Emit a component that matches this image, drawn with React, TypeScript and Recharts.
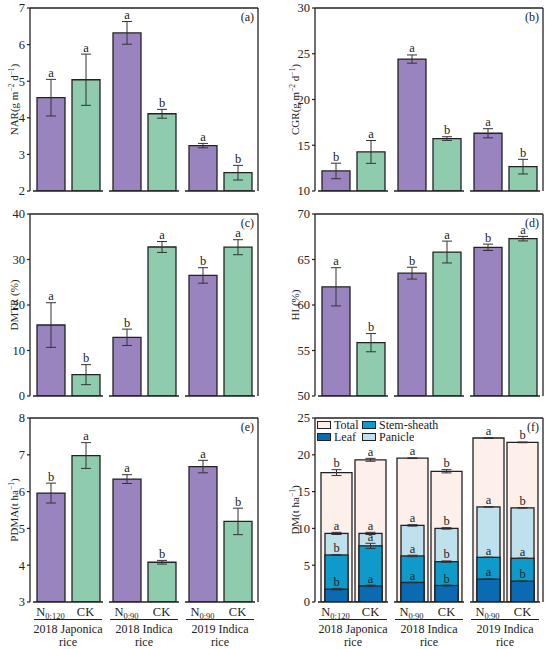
import React from 'react';
import { BarChart, Bar, XAxis, YAxis, ErrorBar, LabelList, Legend } from 'recharts';

// treatment groups and nitrogen labels
const groups = ['2018 Japonica rice', '2018 Indica rice', '2019 Indica rice'];
const nRates = ['0:120', '0:90', '0:90'];

// (a) NAR
const narN = [4.55, 6.32, 3.24];
const narNErr = [0.5, 0.31, 0.06];
const narNSig = ['a', 'a', 'a'];
const narCK = [5.04, 4.11, 2.5];
const narCKErr = [0.7, 0.12, 0.2];
const narCKSig = ['a', 'b', 'b'];

// (b) CGR
const cgrN = [12.19, 24.42, 16.31];
const cgrNErr = [0.85, 0.45, 0.5];
const cgrNSig = ['b', 'a', 'a'];
const cgrCK = [14.27, 15.73, 12.66];
const cgrCKErr = [1.25, 0.2, 0.8];
const cgrCKSig = ['a', 'b', 'b'];

// (c) DMTR
const dmtrN = [15.6, 12.9, 26.5];
const dmtrNErr = [4.9, 1.8, 1.7];
const dmtrNSig = ['a', 'b', 'b'];
const dmtrCK = [4.69, 32.75, 32.7];
const dmtrCKErr = [2.2, 1.2, 1.65];
const dmtrCKSig = ['b', 'a', 'a'];

// (d) HI
const hiN = [62.0, 63.5, 66.34];
const hiNErr = [2.1, 0.65, 0.35];
const hiNSig = ['a', 'b', 'b'];
const hiCK = [55.86, 65.82, 67.29];
const hiCKErr = [1.0, 1.2, 0.25];
const hiCKSig = ['b', 'a', 'a'];

// (e) PDMA
const pdmaN = [5.96, 6.34, 6.68];
const pdmaNErr = [0.27, 0.12, 0.17];
const pdmaNSig = ['b', 'a', 'a'];
const pdmaCK = [6.98, 4.08, 5.19];
const pdmaCKErr = [0.35, 0.05, 0.36];
const pdmaCKSig = ['a', 'b', 'b'];

// (f) DM, one list per organ
const totalN = [17.58, 19.54, 22.28];
const totalNErr = [0.4, 0.05, 0.05];
const totalNSig = ['b', 'a', 'a'];
const totalCK = [19.32, 17.76, 21.69];
const totalCKErr = [0.2, 0.22, 0.05];
const totalCKSig = ['a', 'b', 'b'];

const panicleN = [9.32, 10.41, 12.92];
const panicleNErr = [0.15, 0.1, 0.03];
const panicleNSig = ['a', 'a', 'a'];
const panicleCK = [9.32, 10.0, 12.79];
const panicleCKErr = [0.15, 0.1, 0.03];
const panicleCKSig = ['a', 'b', 'b'];

const stemN = [6.39, 6.26, 6.07];
const stemNErr = [0.05, 0.1, 0.03];
const stemNSig = ['b', 'a', 'a'];
const stemCK = [7.63, 5.48, 5.94];
const stemCKErr = [0.35, 0.1, 0.03];
const stemCKSig = ['a', 'b', 'a'];

const leafN = [1.74, 2.65, 3.1];
const leafNErr = [0.1, 0.03, 0.03];
const leafNSig = ['b', 'a', 'a'];
const leafCK = [2.19, 2.24, 2.83];
const leafCKErr = [0.1, 0.05, 0.03];
const leafCKSig = ['a', 'b', 'b'];

const legendItems = [
  { name: 'Total', color: '#FDF0EA' },
  { name: 'Stem-sheath', color: '#0E9BCB' },
  { name: 'Leaf', color: '#0B6BB2' },
  { name: 'Panicle', color: '#BFE1EE' },
];

const FONT = '"Liberation Serif", "Times New Roman", serif';
const INK = '#222';
const PURPLE = '#9A84C0';
const GREEN = '#8FCCAE';

const makeRows = (n: number[], nErr: number[], nSig: string[], ck: number[], ckErr: number[], ckSig: string[]) =>
  groups.map((g, i) => ({ group: g, n: n[i], nErr: nErr[i], nSig: nSig[i], ck: ck[i], ckErr: ckErr[i], ckSig: ckSig[i] }));

const dmRows = groups.map((g, i) => ({
  group: g,
  tN: totalN[i], tNe: totalNErr[i], tNs: totalNSig[i],
  tC: totalCK[i], tCe: totalCKErr[i], tCs: totalCKSig[i],
  pN: panicleN[i], pNe: panicleNErr[i], pNs: panicleNSig[i],
  pC: panicleCK[i], pCe: panicleCKErr[i], pCs: panicleCKSig[i],
  sN: stemN[i], sNe: stemNErr[i], sNs: stemNSig[i],
  sC: stemCK[i], sCe: stemCKErr[i], sCs: stemCKSig[i],
  lN: leafN[i], lNe: leafNErr[i], lNs: leafNSig[i],
  lC: leafCK[i], lCe: leafCKErr[i], lCs: leafCKSig[i],
}));

const SegTick = (props: any) => {
  const { x, y, payload, bottom } = props;
  const idx = props.index ?? groups.indexOf(payload.value);
  const name: string = payload.value;
  const cut = name.lastIndexOf(' ');
  return (
    <g fontFamily={FONT} fill={INK}>
      <line x1={x - 35} x2={x + 35} y1={y} y2={y} stroke={INK} strokeWidth={1.3} />
      {bottom && (
        <>
          <text x={x - 17.5} y={y + 14} textAnchor="middle" fontSize={12.5} fill={INK}>
            N<tspan fontSize={8.5} dy={3}>{nRates[idx]}</tspan>
          </text>
          <text x={x + 17.5} y={y + 14} textAnchor="middle" fontSize={12.5} fill={INK}>CK</text>
          <line x1={x - 34} x2={x + 34} y1={y + 17.5} y2={y + 17.5} stroke={INK} strokeWidth={1.2} />
          <text x={x} y={y + 31} textAnchor="middle" fontSize={12} fill={INK}>{name.slice(0, cut)}</text>
          <text x={x} y={y + 44} textAnchor="middle" fontSize={12} fill={INK}>{name.slice(cut + 1)}</text>
        </>
      )}
    </g>
  );
};

const YLab = ({ viewBox, gap, children }: any) => {
  const vb = viewBox || { x: 0, y: 0, width: 0, height: 0 };
  const cx = vb.x + vb.width - gap;
  const cy = vb.y + vb.height / 2;
  return (
    <text x={cx} y={cy} transform={`rotate(-90 ${cx} ${cy})`} textAnchor="middle" fontSize={11} fontFamily={FONT} fill={INK}>
      {children}
    </text>
  );
};

const Tag = ({ viewBox, text }: any) => {
  const vb = viewBox || { x: 0, y: 0, width: 0, height: 0 };
  return (
    <text x={vb.x + vb.width - 4} y={vb.y + vb.height + 13} textAnchor="end" fontSize={12} fontFamily={FONT} fill={INK}>{text}</text>
  );
};

const Sig = (props: any) => {
  const { x, y, width, height, value, index, rows, vKey, eKey, min } = props;
  const r = rows[index];
  const ppu = Number(height) / (r[vKey] - min);
  const top = Number(y) - r[eKey] * ppu;
  return (
    <text x={Number(x) + Number(width) / 2} y={top - 2.5} textAnchor="middle" fontSize={12.5} fontFamily={FONT} fill={INK}>{value}</text>
  );
};

const sup = (s: string, after = '') => (
  <>
    <tspan dy={-4} fontSize={7.5}>{s}</tspan>
    <tspan dy={4}>{after}</tspan>
  </>
);

interface PanelProps {
  rows: any[];
  domain: [number, number];
  ticks: number[];
  yLabel: React.ReactNode;
  tag: string;
  left: number;
  top: number;
  height: number;
  mLeft: number;
  mBottom: number;
  gap: number;
  bottom?: boolean;
}

const axisLine = { stroke: INK, strokeWidth: 1.3 };

// axes need a size of at least 1px or recharts skips drawing them
const Frame = ({ domain, ticks, yLabel, tag, gap, bottom }: any) => [
  <XAxis key="x" dataKey="group" tickLine={false} axisLine={false} tickSize={0} tickMargin={0} height={1} interval={0}
    tick={<SegTick bottom={bottom} />} />,
  <XAxis key="xt" xAxisId="top" orientation="top" dataKey="group" tick={false} tickLine={false} height={1} axisLine={axisLine}
    label={{ content: (p: any) => <Tag viewBox={p.viewBox} text={tag} /> }} />,
  <YAxis key="y" domain={domain} ticks={ticks} width={1} tickSize={3} tickMargin={2} axisLine={axisLine}
    tickLine={{ stroke: INK, strokeWidth: 1.2 }} tick={{ fontSize: 12.5, fontFamily: FONT, fill: INK }}
    allowDataOverflow label={{ content: (p: any) => <YLab viewBox={p.viewBox} gap={gap}>{yLabel}</YLab> }} />,
  <YAxis key="yr" yAxisId="r" orientation="right" domain={domain} width={1} tick={false} tickLine={false} axisLine={axisLine} />,
];

const Panel = ({ rows, domain, ticks, yLabel, tag, left, top, height, mLeft, mBottom, gap, bottom }: PanelProps) => (
  <div style={{ position: 'absolute', left, top }}>
    <BarChart width={275} height={height} data={rows} barSize={28} barGap={7}
      margin={{ top: 7, right: 275 - mLeft - 228 - 1, bottom: mBottom - 1, left: mLeft - 1 }}>
      {Frame({ domain, ticks, yLabel, tag, gap, bottom })}
      <Bar dataKey="n" fill={PURPLE} stroke={INK} strokeWidth={1.3} isAnimationActive={false}>
        <ErrorBar dataKey="nErr" width={5} stroke="#333" strokeWidth={1} />
        <LabelList dataKey="nSig" content={(p: any) => <Sig {...p} rows={rows} vKey="n" eKey="nErr" min={domain[0]} />} />
      </Bar>
      <Bar dataKey="ck" fill={GREEN} stroke={INK} strokeWidth={1.3} isAnimationActive={false}>
        <ErrorBar dataKey="ckErr" width={5} stroke="#333" strokeWidth={1} />
        <LabelList dataKey="ckSig" content={(p: any) => <Sig {...p} rows={rows} vKey="ck" eKey="ckErr" min={domain[0]} />} />
      </Bar>
    </BarChart>
  </div>
);

const inset = (color: string) => (p: any) => (
  <rect x={p.x + 4} y={p.y} width={Math.max(p.width - 8, 0)} height={p.height} fill={color} stroke={INK} strokeWidth={1.3} />
);

const DMLegend = () => (
  <div style={{ display: 'grid', gridTemplateColumns: '45px auto', rowGap: 0, fontFamily: FONT, fontSize: 12, color: INK, lineHeight: '12px' }}>
    {legendItems.map((it) => (
      <div key={it.name} style={{ display: 'flex', alignItems: 'center', height: 12 }}>
        <span style={{ display: 'inline-block', width: 12, height: 6, background: it.color, border: `1.3px solid ${INK}`, marginRight: 3 }} />
        {it.name}
      </div>
    ))}
  </div>
);

const layers = [
  { id: 't', key: 't', color: '#FDF0EA' },
  { id: 'p', key: 'p', color: '#BFE1EE' },
  { id: 's', key: 's', color: '#0E9BCB' },
  { id: 'l', key: 'l', color: '#0B6BB2' },
];

const DMPanel = () => {
  const domain: [number, number] = [0, 25];
  return (
    <div style={{ position: 'absolute', left: 275, top: 410 }}>
      <BarChart width={275} height={239} data={dmRows} barSize={31} barGap={3}
        margin={{ top: 7, right: 6, bottom: 46, left: 39 }}>
        {Frame({ domain, ticks: [0, 5, 10, 15, 20, 25], yLabel: <>DM(t ha{sup('−1', ')')}</>, tag: '(f)', gap: 16, bottom: true })}
        {layers.slice(1).map((l) => (
          <XAxis key={l.id} xAxisId={l.id} dataKey="group" hide />
        ))}
        {layers.map((l) =>
          ['N', 'C'].map((t) => (
            <Bar key={l.key + t} xAxisId={l.id === 't' ? 0 : l.id} dataKey={l.key + t} fill={l.color} stroke={INK} strokeWidth={1.3}
              isAnimationActive={false} shape={l.id === 't' ? undefined : inset(l.color)}>
              <ErrorBar dataKey={l.key + t + 'e'} width={5} stroke="#333" strokeWidth={1} />
              <LabelList dataKey={l.key + t + 's'}
                content={(p: any) => <Sig {...p} rows={dmRows} vKey={l.key + t} eKey={l.key + t + 'e'} min={0} />} />
            </Bar>
          ))
        )}
        <Legend layout="horizontal" verticalAlign="middle" align="center" content={() => <DMLegend />}
          wrapperStyle={{ top: 9, left: 42, width: 'auto', height: 'auto' }} />
      </BarChart>
    </div>
  );
};

export default function App() {
  return (
    <div style={{ position: 'absolute', left: 0, top: 0, width: 550, height: 649, background: '#fff' }}>
      <Panel rows={makeRows(narN, narNErr, narNSig, narCK, narCKErr, narCKSig)} domain={[2, 7]} ticks={[2, 3, 4, 5, 6, 7]}
        yLabel={<>NAR(g m{sup('−2', ' d')}{sup('−1', ')')}</>} tag="(a)" left={0} top={0} height={200} mLeft={30} mBottom={9} gap={12.5} />
      <Panel rows={makeRows(cgrN, cgrNErr, cgrNSig, cgrCK, cgrCKErr, cgrCKSig)} domain={[10, 30]} ticks={[10, 15, 20, 25, 30]}
        yLabel={<>CGR(g m{sup('−2', ' d')}{sup('−1', ')')}</>} tag="(b)" left={275} top={0} height={200} mLeft={40} mBottom={9} gap={16} />
      <Panel rows={makeRows(dmtrN, dmtrNErr, dmtrNSig, dmtrCK, dmtrCKErr, dmtrCKSig)} domain={[0, 40]} ticks={[0, 10, 20, 30, 40]}
        yLabel="DMTR (%)" tag="(c)" left={0} top={206} height={200} mLeft={30} mBottom={10} gap={12.5} />
      <Panel rows={makeRows(hiN, hiNErr, hiNSig, hiCK, hiCKErr, hiCKSig)} domain={[50, 70]} ticks={[50, 55, 60, 65, 70]}
        yLabel="HI (%)" tag="(d)" left={275} top={206} height={200} mLeft={40} mBottom={10} gap={16} />
      <Panel rows={makeRows(pdmaN, pdmaNErr, pdmaNSig, pdmaCK, pdmaCKErr, pdmaCKSig)} domain={[3, 8]} ticks={[3, 4, 5, 6, 7, 8]}
        yLabel={<>PDMA(t ha{sup('−1', ')')}</>} tag="(e)" left={0} top={410} height={239} mLeft={30} mBottom={47} gap={12.5} bottom />
      <DMPanel />
    </div>
  );
}
